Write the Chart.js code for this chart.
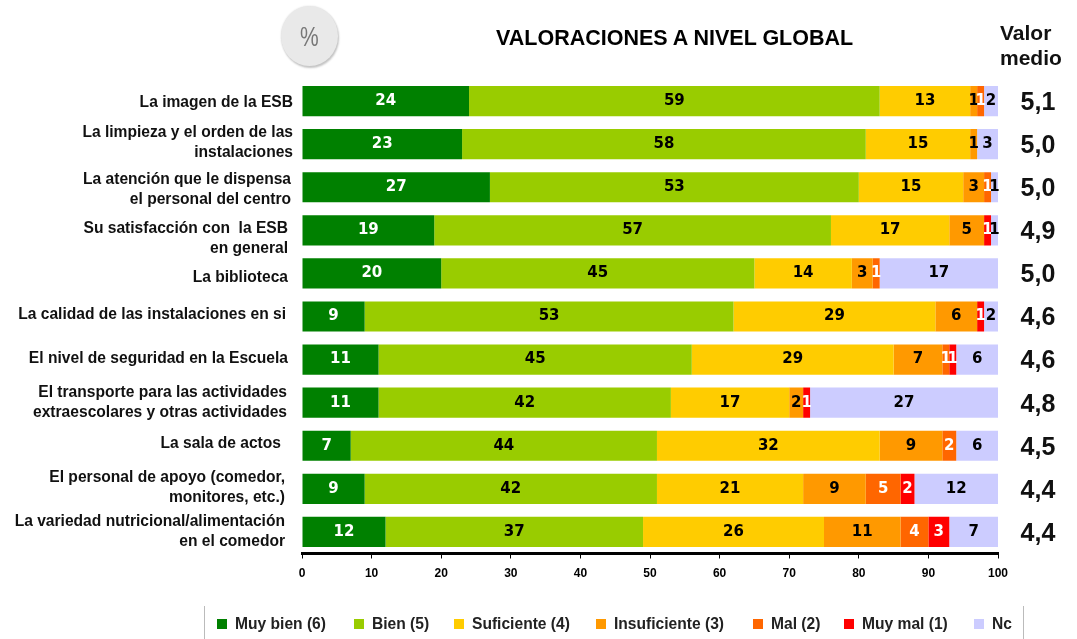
<!DOCTYPE html>
<html>
<head>
<meta charset="utf-8">
<script src="https://cdn.jsdelivr.net/npm/chart.js@4"></script>
<style>
html, body { margin: 0; padding: 0; background: #fff; }
#wrap { position: relative; width: 1077px; height: 639px; overflow: hidden; font-family: "Liberation Sans", Arial, sans-serif; color: #000; }
#myChart { position: absolute; left: 0; top: 0; }
#titulo { position: absolute; left: 496px; top: 26px; font-size: 21.5px; font-weight: bold; white-space: nowrap; }
#valor { position: absolute; left: 1000px; top: 20px; font-size: 21px; line-height: 25px; font-weight: bold; color: #111; }
#badge { position: absolute; left: 281px; top: 6px; width: 57px; height: 60px; border-radius: 50%; background: #e9e9e9; box-shadow: 1px 2px 2px #c4c4c4, 0 0 2px #ddd; color: #777; font-size: 28px; text-align: center; line-height: 62px; }
#badge span { display: inline-block; transform: scaleX(0.75); }
#leyenda { position: absolute; left: 204px; top: 606px; width: 818px; height: 33px; border-left: 1px solid #bbb; border-right: 1px solid #bbb; }
.item { position: absolute; top: 9px; font-size: 15.6px; font-weight: bold; white-space: nowrap; line-height: 18px; color: #222; }
.item i { position: absolute; top: 4px; width: 10px; height: 10px; }
</style>
</head>
<body>
<div id="wrap">
  <canvas id="myChart" width="1077" height="639"></canvas>
  <div id="badge"><span>%</span></div>
  <div id="titulo">VALORACIONES A NIVEL GLOBAL</div>
  <div id="valor">Valor<br>medio</div>
  <div id="leyenda"></div>
</div>
<script>
// categorias
var categorias = [
  ["La imagen de la ESB"],
  ["La limpieza y el orden de las", "instalaciones"],
  ["La atención que le dispensa", "el personal del centro"],
  ["Su satisfacción con  la ESB", "en general"],
  ["La biblioteca"],
  ["La calidad de las instalaciones en si"],
  ["El nivel de seguridad en la Escuela"],
  ["El transporte para las actividades", "extraescolares y otras actividades"],
  ["La sala de actos"],
  ["El personal de apoyo (comedor,", "monitores, etc.)"],
  ["La variedad nutricional/alimentación", "en el comedor"]
];

// series (0 = sin segmento)
var muyBien      = [24, 23, 27, 19, 20,  9, 11, 11,  7,  9, 12];
var bien         = [59, 58, 53, 57, 45, 53, 45, 42, 44, 42, 37];
var suficiente   = [13, 15, 15, 17, 14, 29, 29, 17, 32, 21, 26];
var insuficiente = [ 1,  1,  3,  5,  3,  6,  7,  2,  9,  9, 11];
var mal          = [ 1,  0,  1,  0,  1,  0,  1,  0,  2,  5,  4];
var muyMal       = [ 0,  0,  0,  1,  0,  1,  1,  1,  0,  2,  3];
var nc           = [ 2,  3,  1,  1, 17,  2,  6, 27,  6, 12,  7];

var valorMedio = ["5,1", "5,0", "5,0", "4,9", "5,0", "4,6", "4,6", "4,8", "4,5", "4,4", "4,4"];
var ticksX = [0, 10, 20, 30, 40, 50, 60, 70, 80, 90, 100];

var nombres = ["Muy bien (6)", "Bien (5)", "Suficiente (4)", "Insuficiente (3)", "Mal (2)", "Muy mal (1)", "Nc"];
var valores = [muyBien, bien, suficiente, insuficiente, mal, muyMal, nc];
var colores = ["#008000", "#99CC00", "#FFCC00", "#FF9900", "#FF6600", "#FF0000", "#CCCCFF"];
var colorTexto = ["#fff", "#000", "#000", "#000", "#fff", "#fff", "#000"];

// ajustes de posicion, no son datos
var leyendaX = [30, 167, 267, 409, 566, 657, 787]; // inicio del texto dentro de la caja
var finEtiqueta = [293, 293, 291, 288, 288, 286, 288, 287, 281, 285, 285]; // borde derecho del texto del eje
var ajusteY = [2, -1, 2, 8, 4, -2, -1, 0, -2, -1, 0];

var datasets = [];
for (var i in nombres) {
  datasets.push({
    label: nombres[i],
    data: valores[i],
    backgroundColor: colores[i],
    borderWidth: 0,
    barPercentage: 1,
    categoryPercentage: 0.7
  });
}

// numeros dentro de las barras, textos del eje y columna de valor medio
var etiquetas = {
  id: "etiquetas",
  afterDatasetsDraw: function (chart) {
    var ctx = chart.ctx;
    var escalaY = chart.scales.y;
    ctx.save();
    ctx.textBaseline = "middle";

    ctx.textAlign = "center";
    ctx.font = "bold 15px 'DejaVu Sans'";
    chart.data.datasets.forEach(function (ds, d) {
      chart.getDatasetMeta(d).data.forEach(function (bar, n) {
        if (!ds.data[n]) return;
        ctx.fillStyle = colorTexto[d];
        ctx.fillText(ds.data[n], (bar.x + bar.base) / 2, bar.y);
      });
    });

    ctx.fillStyle = "#111";
    ctx.font = "bold 25px 'Liberation Sans'";
    valorMedio.forEach(function (v, n) {
      ctx.fillText(v, 1038, escalaY.getPixelForValue(n) + 2);
    });

    ctx.textAlign = "right";
    ctx.font = "bold 15.6px 'Liberation Sans'";
    categorias.forEach(function (lineas, n) {
      var y = escalaY.getPixelForValue(n) + ajusteY[n] - (lineas.length - 1) * 10;
      lineas.forEach(function (txt, l) {
        ctx.fillText(txt, finEtiqueta[n], y + l * 20);
      });
    });
    ctx.restore();
  }
};

new Chart(document.getElementById("myChart"), {
  type: "bar",
  data: { labels: categorias, datasets: datasets },
  plugins: [etiquetas],
  options: {
    indexAxis: "y",
    responsive: false,
    animation: false,
    layout: { padding: { top: 79.5, right: 79, bottom: 0, left: 0 } },
    plugins: { legend: { display: false }, title: { display: false }, tooltip: { enabled: false } },
    scales: {
      x: {
        stacked: true,
        min: 0,
        max: 100,
        afterBuildTicks: function (axis) { axis.ticks = ticksX.map(function (t) { return { value: t }; }); },
        afterFit: function (axis) { axis.height = 85.5; },
        grid: { drawOnChartArea: false, drawTicks: true, tickLength: 5, color: "#000" },
        border: { color: "#000", width: 3 },
        ticks: { color: "#000", maxRotation: 0, padding: 8, font: { family: "'Liberation Sans'", size: 12, weight: "bold" } }
      },
      y: {
        stacked: true,
        afterFit: function (axis) { axis.width = 302; },
        grid: { display: false },
        border: { display: false },
        ticks: { display: false }
      }
    }
  }
});

// leyenda
var leyenda = document.getElementById("leyenda");
nombres.forEach(function (n, i) {
  var el = document.createElement("div");
  el.className = "item";
  el.style.left = leyendaX[i] + "px";
  el.innerHTML = '<i style="left:-18px;background:' + colores[i] + '"></i>' + n;
  leyenda.appendChild(el);
});
</script>
</body>
</html>
